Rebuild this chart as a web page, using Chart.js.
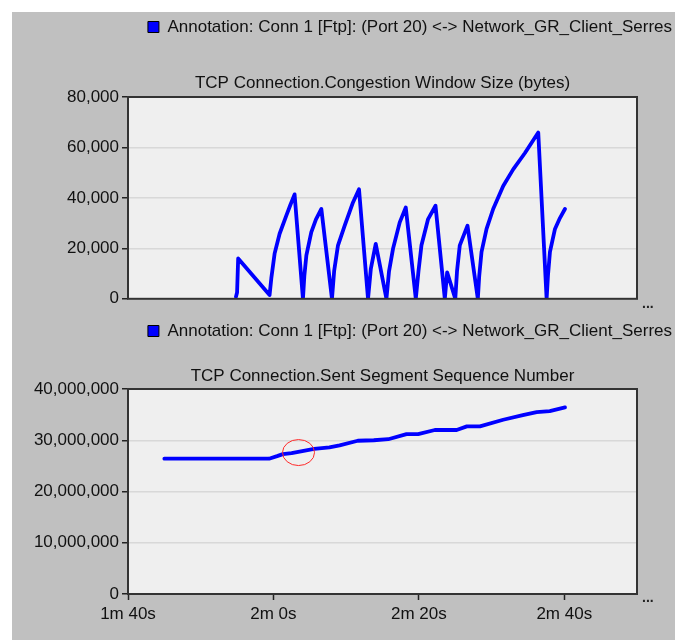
<!DOCTYPE html>
<html><head><meta charset="utf-8">
<script src="https://cdn.jsdelivr.net/npm/chart.js@4.4.1/dist/chart.umd.min.js"></script>
<style>
html,body{margin:0;padding:0;background:#fff;width:675px;height:640px;overflow:hidden;}
#bg{position:absolute;left:12px;top:12px;width:663px;height:628px;background:#c0c0c0;}
canvas{position:absolute;left:12px;}
#c1{top:12px;} #c2{top:312px;}
</style></head><body>
<div id="bg"></div>
<canvas id="c1" width="663" height="300"></canvas>
<canvas id="c2" width="663" height="328"></canvas>
<script>
const seriesName = 'Annotation: Conn 1 [Ftp]: (Port 20) <-> Network_GR_Client_Serres';
const title1 = 'TCP Connection.Congestion Window Size (bytes)';
const title2 = 'TCP Connection.Sent Segment Sequence Number';

// Congestion window (time in seconds, bytes)
const cwndTime = [114.85, 115.0, 115.15, 119.47, 119.71, 120.16, 120.85, 121.77, 122.3, 122.91,
  124.06, 124.25, 124.53, 125.21, 125.85, 126.59,
  128.05, 128.35, 128.88, 129.80, 130.94, 131.77,
  133.01, 133.4, 134.07, 135.54, 135.9, 136.45, 137.37, 138.20,
  139.58, 139.95, 140.36, 141.27, 142.29,
  143.57, 143.89, 145.01, 145.25, 145.63, 146.69,
  148.11, 148.3, 148.62, 149.31, 150.22, 151.60, 152.97, 154.59, 156.42,
  157.57, 157.75, 158.03, 158.72, 159.4, 160.09];
const cwndBytes = [800, 2500, 16000, 1500, 8100, 17900, 25800, 33000, 37000, 41400,
  0, 9000, 17200, 26400, 31500, 35600,
  0, 11000, 21200, 29000, 38200, 43400,
  0, 12000, 21800, 0, 11000, 19900, 30300, 36200,
  0, 11000, 21200, 31600, 36900,
  0, 10500, 0, 11000, 21200, 29000,
  0, 9000, 18600, 27700, 35600, 44700, 51300, 57800, 65900,
  0, 9000, 18600, 27700, 32000, 35600];

// Sent segment sequence number (time in seconds, value)
const seqTime = [105.0, 119.4, 120.5, 121.3, 122.5, 123.6, 125.6, 127.7, 129.1, 131.6,
  133.8, 135.8, 138.3, 139.9, 142.2, 145.2, 146.6, 148.4, 151.6, 154.3,
  156.2, 158.0, 160.1];
const seqNumber = [26400000, 26400000, 26900000, 27300000, 27500000, 27800000, 28300000, 28600000, 29000000, 29900000,
  30000000, 30200000, 31200000, 31200000, 32000000, 32000000, 32700000, 32700000, 34000000, 34900000,
  35500000, 35700000, 36400000];

const xTickValues = [100, 120, 140, 160];
const xTickLabels = ['1m 40s', '2m 0s', '2m 20s', '2m 40s'];
const cwndTicks = [0, 20000, 40000, 60000, 80000];
const seqTicks = [0, 10000000, 20000000, 30000000, 40000000];
const highlight = {t: 123.45, v: 27600000};

Chart.defaults.font.family = '"Liberation Sans", Arial, sans-serif';
Chart.defaults.font.size = 17;
Chart.defaults.color = '#111';

const frame = {
  id: 'frame',
  beforeDraw(chart) {
    const a = chart.chartArea, c = chart.ctx;
    c.save(); c.fillStyle = '#efefef';
    c.fillRect(a.left, a.top, a.right - a.left, a.bottom - a.top);
    c.restore();
  },
  afterDraw(chart) {
    const a = chart.chartArea, c = chart.ctx;
    c.save(); c.strokeStyle = '#333'; c.lineWidth = 2;
    c.strokeRect(a.left, a.top, a.right - a.left, a.bottom - a.top);
    c.fillStyle = '#222'; c.font = 'bold 14px "Liberation Sans", Arial';
    c.textBaseline = 'middle';
    c.fillText('...', a.right + 5, a.bottom + (chart.canvas.id === 'c1' ? 5 : 4));
    c.restore();
  }
};

const ellipse = {
  id: 'ellipse',
  afterDatasetsDraw(chart) {
    if (chart.canvas.id !== 'c2') return;
    const x = chart.scales.x.getPixelForValue(highlight.t);
    const y = chart.scales.y.getPixelForValue(highlight.v);
    const c = chart.ctx;
    c.save(); c.strokeStyle = '#ff2a2a'; c.lineWidth = 1;
    c.beginPath(); c.ellipse(x, y, 16, 13, 0, 0, Math.PI * 2); c.stroke();
    c.restore();
  }
};

function legendLabels() {
  return [{text: seriesName, fillStyle: '#0000ff', strokeStyle: '#000', lineWidth: 1, hidden: false, datasetIndex: 0, fontColor: '#111'}];
}

function makeChart(id, times, values, ticksY, title, cfg) {
  const scales = {
    x: {
      type: 'linear', min: 100, max: 170,
      display: cfg.showX,
      afterBuildTicks: s => { s.ticks = xTickValues.map(v => ({value: v})); },
      ticks: {callback: (v, i) => xTickLabels[i], maxRotation: 0, padding: 4, includeBounds: false},
      grid: {drawOnChartArea: false, tickLength: 6, tickColor: '#222', tickWidth: 1.5},
      border: {display: false},
      afterFit: s => { s.height = cfg.xHeight; }
    },
    y: {
      type: 'linear', min: ticksY[0], max: ticksY[ticksY.length - 1],
      afterBuildTicks: s => { s.ticks = ticksY.map(v => ({value: v})); },
      ticks: {callback: v => v.toLocaleString('en-US'), padding: 3},
      grid: {color: '#d8d8d8', lineWidth: 1.5, tickLength: 6, tickColor: '#222', tickWidth: 1.5},
      border: {display: false},
      afterFit: s => { s.width = 116; }
    },
    yr: {
      type: 'linear', position: 'right', display: true,
      grid: {display: false}, ticks: {display: false}, border: {display: false},
      afterFit: s => { s.width = 38; }
    }
  };
  return new Chart(document.getElementById(id), {
    type: 'line',
    data: {datasets: [{
      label: seriesName,
      data: times.map((t, i) => ({x: t, y: values[i]})),
      borderColor: '#0000ff', backgroundColor: '#0000ff',
      borderWidth: 3.8, pointRadius: 0, tension: 0, fill: false,
      borderJoinStyle: 'round', borderCapStyle: 'round'
    }]},
    options: {
      responsive: false, animation: false, events: [],
      layout: {padding: {top: cfg.padTop, left: 0, right: 0, bottom: cfg.padBottom}},
      scales,
      plugins: {
        legend: {
          position: 'top', align: 'end', weight: 3000,
          labels: {boxWidth: 11, boxHeight: 11, padding: 3, generateLabels: legendLabels, color: '#111'}
        },
        title: {display: true, fullSize: false, text: title, font: {weight: 'normal', size: 17}, color: '#111',
          padding: {top: cfg.titleTop, bottom: cfg.titleBottom}},
        tooltip: {enabled: false}
      }
    },
    plugins: [frame, ellipse]
  });
}

makeChart('c1', cwndTime, cwndBytes, cwndTicks, title1,
  {showX: false, xHeight: 0, padTop: 3.5, padBottom: 11, titleTop: 27.3, titleBottom: 3.8});
makeChart('c2', seqTime, seqNumber, seqTicks, title2,
  {showX: true, xHeight: 46, padTop: 7.5, padBottom: 0, titleTop: 16.3, titleBottom: 2.8});
</script>
</body></html>
